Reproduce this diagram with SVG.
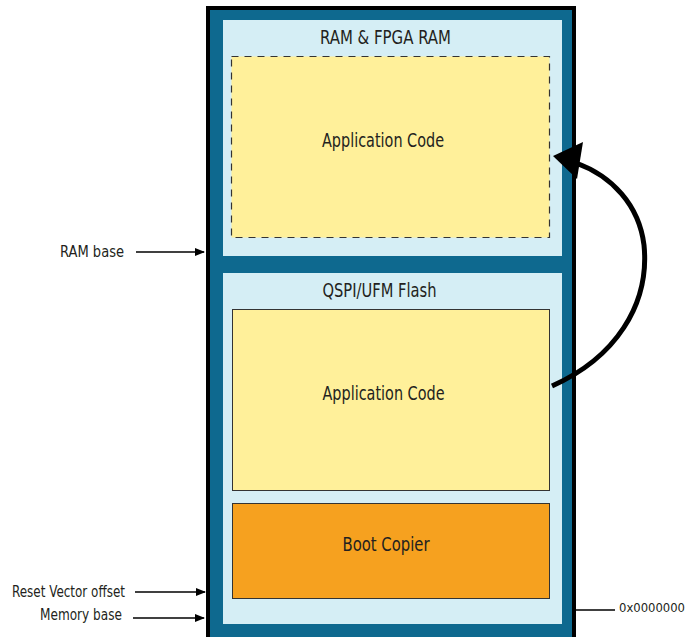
<svg xmlns="http://www.w3.org/2000/svg" width="690" height="637" viewBox="0 0 690 637">
<defs>
<style>
.t{font-family:"DejaVu Sans Condensed","Liberation Sans",sans-serif;fill:#231f20}
.big{font-size:20px}
.sm{font-size:15px}
.hex{font-size:13px}
.ln{stroke:#000;stroke-width:1.5;fill:none}
</style>
<marker id="ah" markerWidth="10" markerHeight="8" refX="9" refY="4" orient="auto" markerUnits="userSpaceOnUse">
<path d="M0,0 L10,4 L0,8 Z" fill="#000"/>
</marker>
</defs>
<rect width="690" height="637" fill="#fff"/>
<g id="memory">
<rect x="208" y="8" width="366" height="640" fill="#0e698f" stroke="#000" stroke-width="4"/>
</g>
<g id="ram">
<rect x="223" y="20" width="339" height="236" fill="#d5eef5"/>
<text class="t big" x="320" y="44" textLength="131" lengthAdjust="spacingAndGlyphs">RAM &amp; FPGA RAM</text>
</g>
<g id="ram-app">
<rect x="231.5" y="56.5" width="318" height="181" fill="#fff09a" stroke="#333" stroke-width="1.2" stroke-dasharray="7,6"/>
<text class="t big" x="322" y="146.5" textLength="122" lengthAdjust="spacingAndGlyphs">Application Code</text>
</g>
<g id="flash">
<rect x="223" y="273" width="339" height="351" fill="#d5eef5"/>
<text class="t big" x="322.5" y="296.5" textLength="114" lengthAdjust="spacingAndGlyphs">QSPI/UFM Flash</text>
</g>
<g id="flash-app">
<rect x="232.5" y="309.5" width="317" height="181" fill="#fff09a" stroke="#333" stroke-width="1"/>
<text class="t big" x="322.5" y="399.5" textLength="122" lengthAdjust="spacingAndGlyphs">Application Code</text>
</g>
<g id="boot">
<rect x="232.5" y="503.5" width="317" height="95" fill="#f6a11f" stroke="#333" stroke-width="1"/>
<text class="t big" x="342.5" y="551" textLength="87" lengthAdjust="spacingAndGlyphs">Boot Copier</text>
</g>
<g id="labels">
<text class="t sm" x="60" y="257" textLength="64" lengthAdjust="spacingAndGlyphs">RAM  base</text>
<text class="t sm" x="12" y="597" textLength="113" lengthAdjust="spacingAndGlyphs">Reset Vector offset</text>
<text class="t sm" x="40" y="620" textLength="82" lengthAdjust="spacingAndGlyphs">Memory base</text>
<text class="t hex" x="619" y="612" textLength="66" lengthAdjust="spacingAndGlyphs">0x0000000</text>
</g>
<g id="connectors">
<line class="ln" x1="136" y1="252" x2="204" y2="252" marker-end="url(#ah)"/>
<line class="ln" x1="135" y1="592" x2="205" y2="592" marker-end="url(#ah)"/>
<line class="ln" x1="133" y1="618" x2="204" y2="618" marker-end="url(#ah)"/>
<line class="ln" x1="576" y1="610" x2="615" y2="610"/>
<path d="M552,386 C615,358 650,305 644,245 C639,205 612,176 576,163" fill="none" stroke="#000" stroke-width="5"/>
<path d="M553,156 L583,142 L577,179 Z" fill="#000"/>
</g>
</svg>
